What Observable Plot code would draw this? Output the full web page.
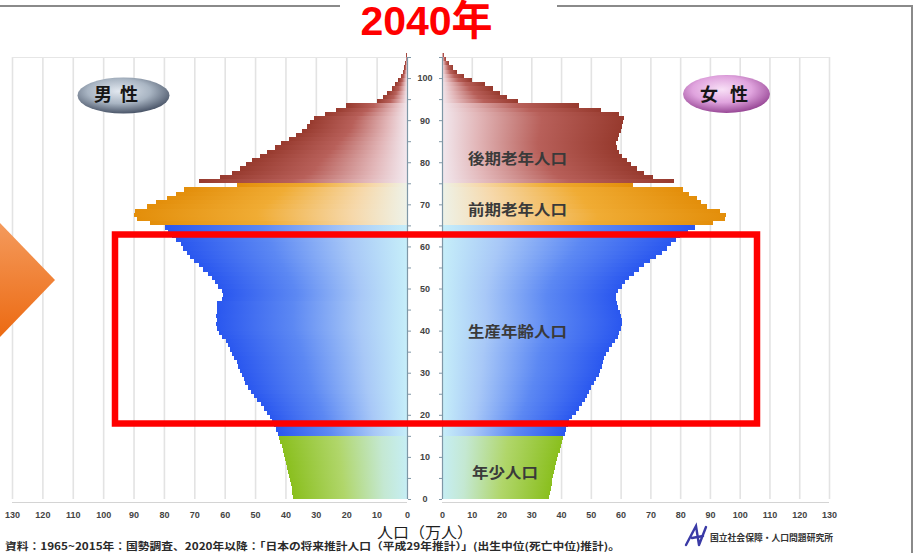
<!DOCTYPE html>
<html lang="ja">
<head>
<meta charset="utf-8">
<script src="https://cdn.jsdelivr.net/npm/d3@7"></script>
<script src="https://cdn.jsdelivr.net/npm/@observablehq/plot@0.6"></script>
<style>
html,body{margin:0;padding:0;background:#fff;}
#stage{position:relative;width:915px;height:553px;overflow:hidden;background:#fff;}
#stage > svg{position:absolute;top:0;}
.jp{font-family:"Noto Sans CJK JP","Noto Sans CJK SC",sans-serif;}
</style>
</head>
<body>
<div id="stage">
<svg id="overlay" width="915" height="553" style="left:0;top:0;z-index:5;overflow:visible">
  <defs>
    <linearGradient id="m-late" x1="0" y1="0" x2="1" y2="0"><stop offset="0" stop-color="#973a2e"/><stop offset="0.45" stop-color="#b8605a"/><stop offset="0.8" stop-color="#e2b6b8"/><stop offset="1" stop-color="#f2e8ee"/></linearGradient>
    <linearGradient id="f-late" x1="1" y1="0" x2="0" y2="0"><stop offset="0" stop-color="#973a2e"/><stop offset="0.45" stop-color="#b8605a"/><stop offset="0.8" stop-color="#e2b6b8"/><stop offset="1" stop-color="#f2e8ee"/></linearGradient>
    <linearGradient id="m-early" x1="0" y1="0" x2="1" y2="0"><stop offset="0" stop-color="#e38e0a"/><stop offset="0.45" stop-color="#f0ac34"/><stop offset="0.8" stop-color="#f6d8aa"/><stop offset="1" stop-color="#eef2e8"/></linearGradient>
    <linearGradient id="f-early" x1="1" y1="0" x2="0" y2="0"><stop offset="0" stop-color="#e38e0a"/><stop offset="0.45" stop-color="#f0ac34"/><stop offset="0.8" stop-color="#f6d8aa"/><stop offset="1" stop-color="#eef2e8"/></linearGradient>
    <linearGradient id="m-work" x1="0" y1="0" x2="1" y2="0"><stop offset="0" stop-color="#2a57ef"/><stop offset="0.4" stop-color="#5c88f3"/><stop offset="0.75" stop-color="#a8c8f7"/><stop offset="1" stop-color="#c6eef9"/></linearGradient>
    <linearGradient id="f-work" x1="1" y1="0" x2="0" y2="0"><stop offset="0" stop-color="#2a57ef"/><stop offset="0.4" stop-color="#5c88f3"/><stop offset="0.75" stop-color="#a8c8f7"/><stop offset="1" stop-color="#c6eef9"/></linearGradient>
    <linearGradient id="m-young" x1="0" y1="0" x2="1" y2="0"><stop offset="0" stop-color="#8abf1e"/><stop offset="0.45" stop-color="#b0d66a"/><stop offset="0.8" stop-color="#c4e8d2"/><stop offset="1" stop-color="#c6eef4"/></linearGradient>
    <linearGradient id="f-young" x1="1" y1="0" x2="0" y2="0"><stop offset="0" stop-color="#8abf1e"/><stop offset="0.45" stop-color="#b0d66a"/><stop offset="0.8" stop-color="#c4e8d2"/><stop offset="1" stop-color="#c6eef4"/></linearGradient>
    <linearGradient id="arrowGrad" x1="0" y1="0" x2="0" y2="1"><stop offset="0" stop-color="#f49a5c"/><stop offset="1" stop-color="#ec6a12"/></linearGradient>
    <radialGradient id="maleOval" cx="0.45" cy="0.38" r="0.62"><stop offset="0" stop-color="#e2e8f0"/><stop offset="0.55" stop-color="#a9b5c3"/><stop offset="1" stop-color="#4b5669"/></radialGradient>
    <radialGradient id="femaleOval" cx="0.45" cy="0.38" r="0.62"><stop offset="0" stop-color="#f8e0f6"/><stop offset="0.55" stop-color="#e0a4de"/><stop offset="1" stop-color="#984896"/></radialGradient>
  </defs>
  <line x1="0" y1="6" x2="340" y2="6" stroke="#8a8a8a" stroke-width="2"/>
  <line x1="557" y1="6" x2="912" y2="6" stroke="#8a8a8a" stroke-width="2"/>
  <line x1="912" y1="5" x2="912" y2="553" stroke="#8a8a8a" stroke-width="2"/>
  <text x="426.5" y="34.5" text-anchor="middle" font-size="41" font-weight="bold" fill="#ff0000" font-family="'Liberation Sans','Noto Sans CJK JP',sans-serif">2040年</text>
  <polygon points="0,223 55,280 0,337" fill="url(#arrowGrad)"/>
  <ellipse cx="123.5" cy="95.5" rx="46" ry="18" fill="url(#maleOval)"/>
  <text class="jp" x="103" y="101" text-anchor="middle" font-size="18" font-weight="bold" fill="#161616">男</text>
  <text class="jp" x="129" y="101" text-anchor="middle" font-size="18" font-weight="bold" fill="#161616">性</text>
  <ellipse cx="726.5" cy="94" rx="43.5" ry="19" fill="url(#femaleOval)"/>
  <text class="jp" x="709" y="101" text-anchor="middle" font-size="18" font-weight="bold" fill="#161616">女</text>
  <text class="jp" x="739" y="101" text-anchor="middle" font-size="18" font-weight="bold" fill="#161616">性</text>
  <text class="jp" x="468" y="164" font-size="15" font-weight="bold" fill="#3a3a3a" textLength="99" lengthAdjust="spacingAndGlyphs">後期老年人口</text>
  <text class="jp" x="468" y="215" font-size="15" font-weight="bold" fill="#3a3a3a" textLength="99" lengthAdjust="spacingAndGlyphs">前期老年人口</text>
  <text class="jp" x="468" y="337" font-size="15" font-weight="bold" fill="#3a3a3a" textLength="99" lengthAdjust="spacingAndGlyphs">生産年齢人口</text>
  <text class="jp" x="472" y="478" font-size="15" font-weight="bold" fill="#3a3a3a" textLength="66" lengthAdjust="spacingAndGlyphs">年少人口</text>
  <rect x="115" y="234.5" width="642" height="189" fill="none" stroke="#ff0000" stroke-width="6.5"/>
  <text class="jp" x="377" y="537.5" font-size="15" fill="#1e1e1e" textLength="96" lengthAdjust="spacingAndGlyphs">人口（万人）</text>
  <text class="jp" x="5" y="550" font-size="10" font-weight="bold" fill="#2a2a2a" textLength="615" lengthAdjust="spacingAndGlyphs">資料：1965~2015年：国勢調査、2020年以降：「日本の将来推計人口（平成29年推計）」(出生中位(死亡中位)推計)。</text>
  <path d="M686,545 L696,526 L699,545 M692,538 L703,536 M699,545 L706,527" fill="none" stroke="#3a3aa6" stroke-width="2.4" stroke-linecap="round"/>
  <text class="jp" x="710" y="541" font-size="9" font-weight="bold" fill="#333" textLength="123" lengthAdjust="spacingAndGlyphs">国立社会保障・人口問題研究所</text>
</svg>
</div>
<script>
// ---- data: population by single year of age (index = age 0..105), unit: 10,000 persons ----
const maleValues = [
  37.4, 37.7, 38.0, 38.3, 38.6, 38.9, 39.2, 39.5, 39.8, 40.2,
  40.6, 40.9, 41.3, 41.7, 42.1, 42.6, 43.2, 43.8, 44.5, 45.2,
  46.2, 47.2, 48.2, 49.3, 50.2, 51.5, 52.4, 53.2, 53.8, 54.3,
  55.0, 55.5, 56.0, 56.8, 57.6, 58.4, 59.0, 59.6, 60.8, 61.8,
  62.5, 62.7, 62.6, 62.8, 62.5, 62.4, 62.6, 61.0, 60.5, 60.8,
  62.2, 63.2, 64.2, 65.5, 67.0, 68.3, 70.0, 71.5, 72.5, 73.8,
  74.5, 76.0, 77.5, 78.5, 79.5, 84.5, 89.0, 90.0, 89.5, 85.5,
  82.5, 79.0, 76.0, 73.5, 56.0, 68.5, 61.5, 57.5, 55.0, 53.0,
  51.0, 48.5, 46.0, 43.5, 41.5, 39.0, 36.5, 34.5, 33.0, 32.0,
  30.5, 27.0, 23.5, 20.0, 10.0, 8.0, 6.5, 5.0, 3.8, 2.8,
  2.0, 1.4, 0.9, 0.6, 0.4, 0.2
];
const femaleValues = [
  35.9, 36.2, 36.5, 36.8, 37.1, 37.4, 37.7, 38.0, 38.4, 38.7,
  39.1, 39.5, 39.9, 40.3, 40.7, 41.3, 41.8, 42.3, 42.8, 43.8,
  45.0, 46.0, 47.0, 48.2, 48.8, 49.4, 50.2, 51.0, 51.8, 52.6,
  53.2, 53.6, 54.0, 54.5, 55.0, 56.0, 57.0, 58.2, 59.0, 59.6,
  60.0, 60.3, 60.4, 60.0, 59.7, 59.2, 58.8, 58.6, 58.5, 59.2,
  60.5, 61.5, 62.8, 64.5, 66.2, 68.0, 70.0, 72.0, 73.8, 75.5,
  77.0, 78.5, 80.0, 82.5, 85.0, 91.0, 95.0, 95.5, 93.5, 89.0,
  87.0, 85.5, 83.0, 81.0, 64.0, 78.0, 71.0, 68.0, 65.5, 63.5,
  62.0, 60.5, 59.5, 58.8, 58.5, 59.0, 59.5, 60.0, 60.3, 60.8,
  61.0, 59.5, 53.5, 46.0, 25.5, 22.0, 19.5, 17.0, 14.5, 10.0,
  7.5, 5.0, 3.8, 2.5, 1.5, 0.7
];
// age groups: 年少人口 0-14, 生産年齢人口 15-64, 前期老年人口 65-74, 後期老年人口 75+
const bandKeys = ["young", "work", "early", "late"];
const bandStarts = [0, 15, 65, 75];
const popTicks = [0, 10, 20, 30, 40, 50, 60, 70, 80, 90, 100, 110, 120, 130];
const ageLabelTicks = [0, 10, 20, 30, 40, 50, 60, 70, 80, 90, 100];
const ageMinorTicks = [0, 5, 10, 15, 20, 25, 30, 35, 40, 45, 50, 55, 60, 65, 70, 75, 80, 85, 90, 95, 100, 105];

function bandOf(age) {
  let k = bandKeys[0];
  bandStarts.forEach((s, i) => { if (age >= s) k = bandKeys[i]; });
  return k;
}
const rows = maleValues.map((m, age) => ({age, male: m, female: femaleValues[age], band: bandOf(age)}));

const fontFam = "'Liberation Sans Narrow','Liberation Sans',sans-serif";
const axisColor = "#7f97a6";

function barMarks(side) {
  return bandKeys.map(key => Plot.rectX(rows, {
    filter: d => d.band === key,
    x1: 0, x2: side, y1: "age", y2: d => d.age + 1,
    fill: `url(#${side === "male" ? "m" : "f"}-${key})`,
    shapeRendering: "crispEdges"
  }));
}

const maleChart = Plot.plot({
  width: 425, height: 553,
  marginLeft: 12, marginRight: 18, marginTop: 57, marginBottom: 54,
  x: {domain: [130, 0], label: null},
  y: {domain: [0, 105], label: null},
  style: {background: "transparent", overflow: "visible", fontFamily: fontFam},
  marks: [
    Plot.ruleX(popTicks.filter(t => t > 0), {stroke: "#e3e3e3", strokeWidth: 1.6}),
    Plot.ruleY([105], {stroke: "#e6e6e6"}),
    Plot.ruleY([0], {dy: 3, stroke: "#d4d4d4"}),
    ...barMarks("male"),
    Plot.ruleX([0], {stroke: axisColor, strokeWidth: 1.2}),
    Plot.axisY({anchor: "right", ticks: ageMinorTicks, tickSize: 3, tickFormat: () => "", color: axisColor}),
    Plot.axisX({anchor: "bottom", ticks: popTicks, tickSize: 0, tickPadding: 12, fontSize: 9, fontWeight: "bold", color: "#444", label: null})
  ]
});
maleChart.style.left = "0px";

const femaleChart = Plot.plot({
  width: 442, height: 553,
  marginLeft: 35, marginRight: 20, marginTop: 57, marginBottom: 54,
  x: {domain: [0, 130], label: null},
  y: {domain: [0, 105], label: null},
  style: {background: "transparent", overflow: "visible", fontFamily: fontFam},
  marks: [
    Plot.ruleX(popTicks.filter(t => t > 0), {stroke: "#e3e3e3", strokeWidth: 1.6}),
    Plot.ruleY([105], {stroke: "#e6e6e6"}),
    Plot.ruleY([0], {dy: 3, stroke: "#d4d4d4"}),
    ...barMarks("female"),
    Plot.ruleX([0], {stroke: axisColor, strokeWidth: 1.2}),
    Plot.axisY({anchor: "left", ticks: ageMinorTicks, tickSize: 3, tickFormat: () => "", color: axisColor}),
    Plot.axisY({anchor: "left", ticks: ageLabelTicks, tickSize: 0, tickPadding: 17.5, textAnchor: "middle", fontSize: 9, fontWeight: "bold", color: "#444", label: null}),
    Plot.axisX({anchor: "bottom", ticks: popTicks, tickSize: 0, tickPadding: 12, fontSize: 9, fontWeight: "bold", color: "#444", label: null})
  ]
});
femaleChart.style.left = "407px";

const stage = document.getElementById("stage");
const overlay = document.getElementById("overlay");
stage.insertBefore(maleChart, overlay);
stage.insertBefore(femaleChart, overlay);
</script>
</body>
</html>
